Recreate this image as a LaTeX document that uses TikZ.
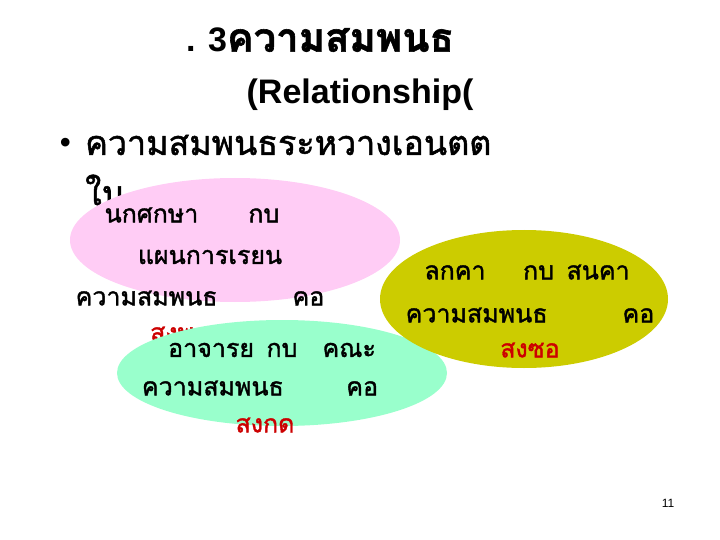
\documentclass[tikz,border=0pt]{standalone}
\usepackage{fontspec}
\usetikzlibrary{shapes.geometric}
\setmainfont{Liberation Sans}
\newfontfamily\thaifont[Script=Thai,FakeBold=1.5]{Loma}
\definecolor{pinkfill}{HTML}{FFCCF5}
\definecolor{greenfill}{HTML}{99FFCC}
\definecolor{olivefill}{HTML}{CCCC00}
\definecolor{redtxt}{HTML}{CC0000}
\begin{document}
\begin{tikzpicture}[x=1pt,y=-1pt,
  th/.style={font=\thaifont\fontsize{25}{27}\selectfont, inner sep=0pt},
  red/.style={th, text=redtxt}]
\useasboundingbox (0,0) rectangle (720,540);
\node[inner sep=0pt, font=\bfseries\fontsize{34}{36}\selectfont] (t1) at (320,40) {. 3{\thaifont\fontsize{40}{42}\selectfont ความสมพนธ}};
\node[inner sep=0pt, font=\bfseries\fontsize{34}{36}\selectfont] (t2) at (360,95) {(Relationship(};
\node[inner sep=0pt, font=\bfseries\fontsize{30}{32}\selectfont, anchor=west] (b) at (60,145) {•};
\node[th, font=\thaifont\fontsize{34}{36}\selectfont, anchor=west] (bt) at (85,145) {ความสมพนธระหวางเอนตต};
\node[th, font=\thaifont\fontsize{34}{36}\selectfont, anchor=west] (bt2) at (85,190) {ใน};
\node[ellipse, fill=pinkfill, minimum width=330, minimum height=124, inner sep=0pt] (pe) at (235,240) {};
\node[red, anchor=west] (r1) at (150,334) {สงพ};
\node[th] (p1) at (192,215) {นกศกษา\quad\quad กบ};
\node[th] (p2) at (210,257) {แผนการเรยน};
\node[th] (p3) at (200,298) {ความสมพนธ\qquad\quad คอ};
\node[ellipse, fill=greenfill, minimum width=330, minimum height=106, inner sep=0pt] (ge) at (282,373) {};
\node[th] (g1) at (272,350) {อาจารย\enspace กบ\enspace\enspace คณะ};
\node[th] (g2) at (260,388) {ความสมพนธ\qquad\enspace คอ};
\node[red] (g3) at (265,425) {สงกด};
\node[ellipse, fill=olivefill, minimum width=288, minimum height=138, inner sep=0pt] (oe) at (524,299) {};
\node[th] (o1) at (527,272) {ลกคา\quad\enspace กบ\enspace สนคา};
\node[th] (o2) at (530,315) {ความสมพนธ\qquad\quad คอ};
\node[red] (o3) at (530,350) {สงซอ};
\node[inner sep=0pt, font=\fontsize{12}{14}\selectfont] (pg) at (668,503) {11};
\end{tikzpicture}
\end{document}
